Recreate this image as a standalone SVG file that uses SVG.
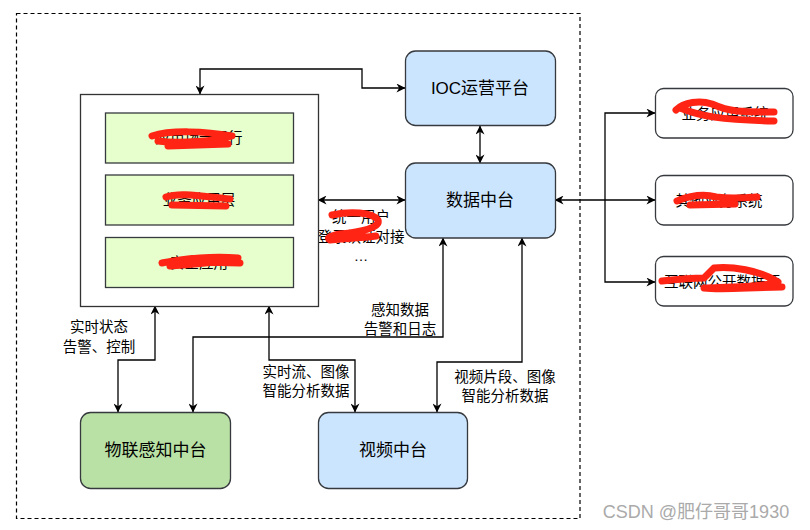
<svg xmlns="http://www.w3.org/2000/svg" width="810" height="530" viewBox="0 0 810 530">
<defs>
<marker id="ah" viewBox="0 0 10 10" refX="9.5" refY="5" markerWidth="9" markerHeight="9" orient="auto-start-reverse" markerUnits="userSpaceOnUse">
<path d="M0,0 L10,5 L0,10 L3,5 Z" fill="#000"/>
</marker>
<style>
.t{font-family:"Liberation Sans","Noto Sans CJK SC",sans-serif;fill:#000;text-anchor:middle}
.n{font-size:17px}
.l{font-size:14.5px}
.blue{fill:#cce5ff;stroke:#36393d;stroke-width:1.3}
.green{fill:#b9e0a5;stroke:#36393d;stroke-width:1.3}
.lg{fill:#e6ffcc;stroke:#36393d;stroke-width:1.3}
.wb{fill:#fff;stroke:#36393d;stroke-width:1.3}
.c{fill:none;stroke:#000;stroke-width:1.3;marker-end:url(#ah)}
.cb{fill:none;stroke:#000;stroke-width:1.3;marker-end:url(#ah);marker-start:url(#ah)}
.red{fill:none;stroke:#ff2414;stroke-width:7;stroke-linecap:round;stroke-linejoin:round}
</style>
</defs>
<rect width="810" height="530" fill="#fff"/>
<rect x="16.5" y="13.5" width="563.5" height="505" fill="none" stroke="#000" stroke-width="1.2" stroke-dasharray="4,3"/>

<g id="connectors">
<polyline class="cb" points="200,94 200,69 362,69 362,88 405,88"/>
<line class="cb" x1="480" y1="126" x2="480" y2="163"/>
<line class="cb" x1="318" y1="200" x2="405" y2="200"/>
<line class="cb" x1="555" y1="200" x2="655" y2="200"/>
<polyline class="c" points="605,200 605,113 655,113"/>
<polyline class="c" points="605,200 605,282 655,282"/>
<polyline class="cb" points="155,306 155,360 118,360 118,412"/>
<polyline class="cb" points="269,306 269,360 355,360 355,412"/>
<polyline class="cb" points="443,238 443,337 193,337 193,412"/>
<polyline class="cb" points="522,238 522,362 437,362 437,412"/>
<text class="t l" x="361" y="222">统一用户</text>
<text class="t l" x="361" y="242">登录认证对接</text>
<text class="t l" x="361" y="261">…</text>
<path class="red" d="M332,215 C350,211 372,212 378,220 C381,228 360,232 340,234 C330,236 326,238 330,240 C350,238 372,237 376,236"/>
<text class="t l" x="99" y="332">实时状态</text>
<text class="t l" x="99" y="352">告警、控制</text>
<text class="t l" x="306" y="377">实时流、图像</text>
<text class="t l" x="306" y="396">智能分析数据</text>
<text class="t l" x="400" y="315">感知数据</text>
<text class="t l" x="400" y="334">告警和日志</text>
<text class="t l" x="505" y="382">视频片段、图像</text>
<text class="t l" x="505" y="401">智能分析数据</text>
</g>

<g id="app-container">
<rect x="80.5" y="94.5" width="238" height="212" fill="#fff" stroke="#333" stroke-width="1.3"/>
</g>
<g id="app1">
<rect class="lg" x="105.5" y="113" width="188" height="50"/>
<text class="t l" x="199" y="143">应用场景运行</text>
<path class="red" d="M152,136 C170,130 205,131 232,136 C215,141 180,144 158,141 M168,146 L228,144"/>
</g>
<g id="app2">
<rect class="lg" x="105.5" y="175" width="188" height="50"/>
<text class="t l" x="199" y="205">业务应用层</text>
<path class="red" d="M166,197 C180,192 200,196 230,199 M172,205 L226,206"/>
</g>
<g id="app3">
<rect class="lg" x="105.5" y="237.5" width="188" height="50"/>
<text class="t l" x="199" y="268">安全应用</text>
<path class="red" d="M162,263 C185,258 215,256 238,258 C225,262 200,264 170,266 M200,262 L240,263"/>
</g>

<g id="ioc">
<rect class="blue" x="405.5" y="51" width="150" height="74.5" rx="10"/>
<text class="t n" x="480" y="94">IOC运营平台</text>
</g>
<g id="data-center">
<rect class="blue" x="405.5" y="163" width="150" height="75" rx="10"/>
<text class="t n" x="480" y="206">数据中台</text>
</g>

<g id="sys1">
<rect class="wb" x="655.5" y="88.5" width="137.5" height="49.5" rx="8"/>
<text class="t l" x="725" y="119">业务应用系统</text>
<path class="red" d="M676,110 C684,102 700,100 712,104 C730,112 740,112 774,112 M680,108 C700,116 720,120 774,121"/>
</g>
<g id="sys2">
<rect class="wb" x="655.5" y="175.5" width="137.5" height="49.5" rx="8"/>
<text class="t l" x="719" y="206">其他业务系统</text>
<path class="red" d="M677,201 C692,195 705,194 716,197 C730,199 745,198 757,197 M690,205 L735,204"/>
</g>
<g id="sys3">
<rect class="wb" x="655.5" y="256.5" width="137.5" height="49.5" rx="8"/>
<text class="t l" x="722" y="287">互联网公开数据源</text>
<path class="red" d="M662,281 C680,279 700,278 704,278 L714,268 C730,266 760,270 778,282 C760,288 720,287 704,288 C720,290 740,288 782,287"/>
</g>

<g id="iot">
<rect class="green" x="80.5" y="412.5" width="150" height="76" rx="10"/>
<text class="t n" x="155.5" y="456">物联感知中台</text>
</g>
<g id="video">
<rect class="blue" x="318.5" y="412.5" width="149" height="76" rx="10"/>
<text class="t n" x="393" y="456">视频中台</text>
</g>

<text x="696" y="518" font-family="Liberation Sans,Noto Sans CJK SC,sans-serif" font-size="18" fill="#aaa" text-anchor="middle">CSDN @肥仔哥哥1930</text>
</svg>
